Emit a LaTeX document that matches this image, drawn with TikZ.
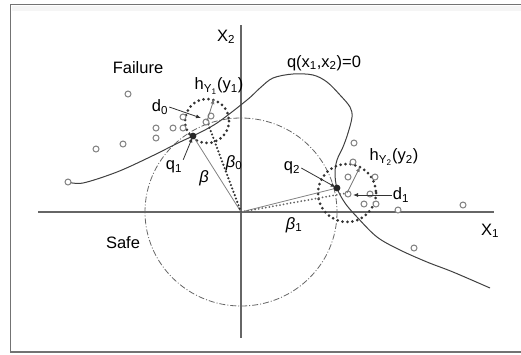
\documentclass[tikz,border=0pt]{standalone}
\usepackage{fontspec}
\setmainfont{Liberation Sans}
\usetikzlibrary{arrows.meta}
\newcommand\lowix[1]{\textsubscript{#1}}
\tikzset{
  sample/.style={circle,draw=black!50,fill=white,line width=1pt,inner sep=0pt,minimum size=6pt},
  lbl/.style={font=\fontsize{16.5}{18}\selectfont,inner sep=1pt},
  ring/.style={draw=black!80,line width=3pt,dash pattern=on 0pt off 5pt,line cap=round},
  ptr/.style={-{Latex[length=5pt,width=4pt]},black!80,line width=.8pt},
}
\begin{document}
\begin{tikzpicture}[x=1pt,y=-1pt]
  \useasboundingbox (0,0) rectangle (521,354);
  \draw[black!55,line width=1.6pt](10.5,4.5) rectangle (530,352);
  \fill[black!4](11.5,5.5) rectangle (530,11);
  % axes
  \coordinate (O) at (241,212);
  \draw[black!60,line width=1.3pt](38,212)--(494,212);
  \draw[black!60,line width=1.3pt](241,25)--(241,338);
  \node[lbl] (x2) at (226,37) {X\lowix{2}};
  \node[lbl] (x1) at (490,231) {X\lowix{1}};
  % safe region
  \draw[black!60,line width=.8pt,dash pattern=on 6pt off 2pt on 1pt off 2pt](O) ellipse (96 and 94);
  % limit state
  \draw[black!75,line width=1pt] plot[smooth,tension=.55] coordinates {(68,182) (83,183) (117,172)
    (150,157) (180,142) (193,136) (217,123) (247,100) (260,88) (273,78) (293,74) (313,75) (327,82)
    (340,95) (350,107) (352,117) (348,133) (343,147) (337,160) (335,173) (337,188) (345,203)
    (357,217) (377,237) (400,250) (427,262) (453,272) (490,288)};
  \coordinate (q1) at (193,136);
  \coordinate (q2) at (337,188);
  \coordinate (c0) at (207,121);
  \coordinate (c1) at (347,193);
  % rings
  \draw[ring](c0) circle (22);
  \draw[ring](c1) circle (29);
  % beta lines
  \draw[black!50,line width=.8pt](O)--(q1);
  \draw[black!50,line width=.8pt](O)--(q2);
  \draw[black!80,line width=2.4pt,dash pattern=on 0pt off 3.6pt,line cap=round](O)--(c0);
  \draw[black!60,line width=2pt,dash pattern=on 0pt off 3.6pt,line cap=round](O)--(c1);
  % samples
  \foreach \p [count=\i] in {(68,182),(128,94),(183,117),(156,128),(173,128),(183,128),(156,138),
    (123,144),(96,149),(211,116),(206,122),(354,143),(353,162),(348,177),(375,177),(348,194),
    (370,194),(364,204),(376,204),(398,210),(463,205),(414,248)}
    \node[sample] (s\i) at \p {};
  \fill[black!85](q1) circle (3.4);
  \fill[black!85](q2) circle (3.4);
  % labels
  \node[lbl] (fail) at (138,68) {Failure};
  \node[lbl] (safe) at (123,243) {Safe};
  \node[lbl] (lsf) at (324,63) {q(x\lowix{1},x\lowix{2})=0};
  \node[lbl] (hy1) at (219,86) {h\lowix{Y\lowix{1}}(y\lowix{1})};
  \node[lbl] (hy2) at (394,157) {h\lowix{Y\lowix{2}}(y\lowix{2})};
  \node[lbl] (d0) at (160,107) {d\lowix{0}};
  \node[lbl] (d1) at (401,195) {d\lowix{1}};
  \node[lbl] (q1lbl) at (174,167) {q\lowix{1}};
  \node[lbl] (q2lbl) at (292,168) {q\lowix{2}};
  \node[lbl] (beta) at (204,178) {\textit{β}};
  \node[lbl] (beta0) at (234,163) {\textit{β}\lowix{0}};
  \node[lbl] (beta1) at (294,225) {\textit{β}\lowix{1}};
  % pointers
  \coordinate (d0tip) at (201,118);
  \coordinate (d1tip) at (353,195);
  \coordinate (h1tip) at (214,99);
  \coordinate (h2tip) at (360,167);
  \draw[ptr](d0.east)--(d0tip);
  \draw[ptr](d1.west)--(d1tip);
  \draw[ptr,shorten >=1.5pt](q1lbl.north east)--(q1);
  \draw[ptr,shorten >=1.5pt](q2lbl.east)--(q2);
  \draw[ptr,black!55](c0)--(h1tip);
  \draw[ptr,black!55](c1)--(h2tip);
\end{tikzpicture}
\end{document}
